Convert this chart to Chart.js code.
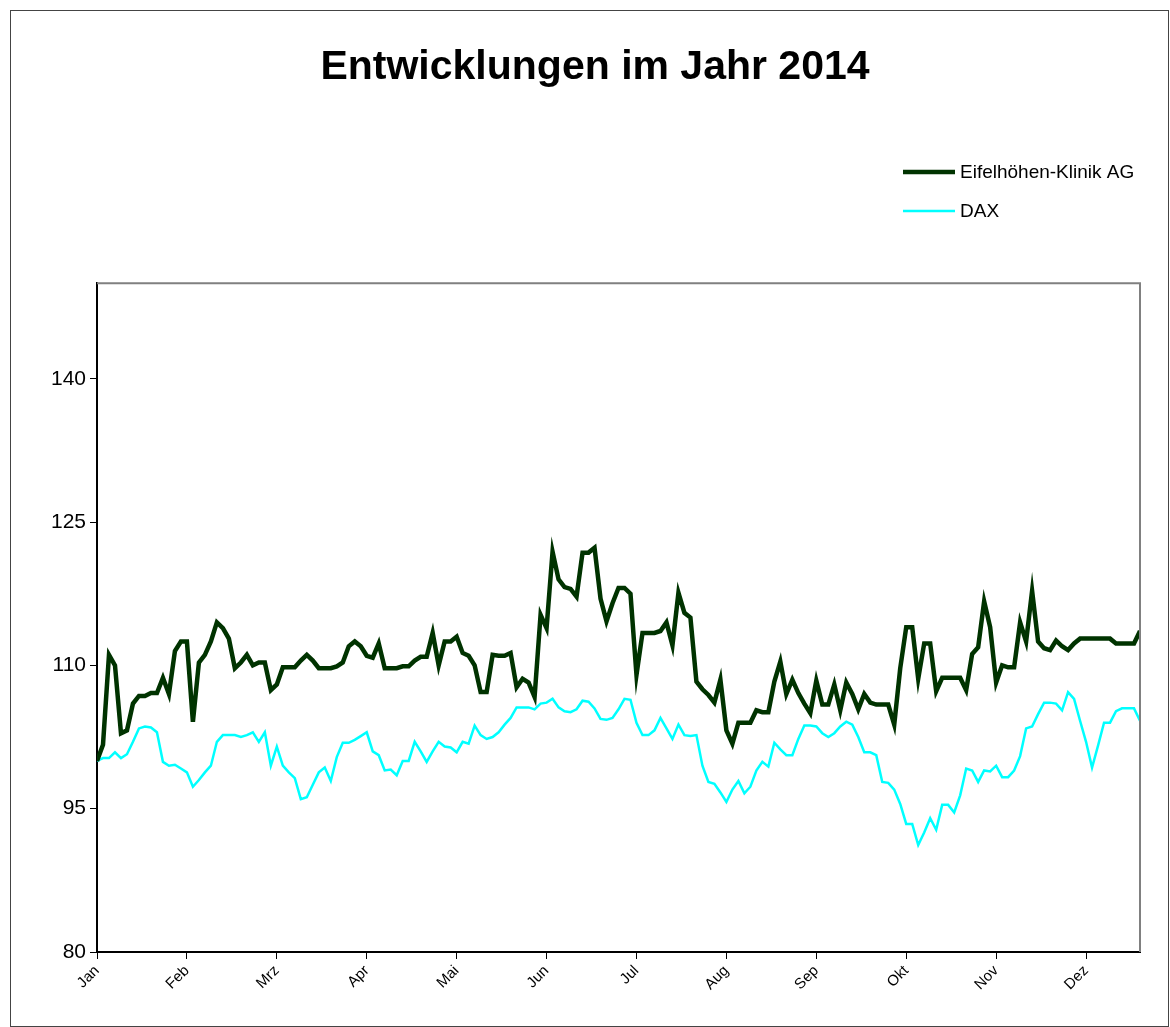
<!DOCTYPE html>
<html>
<head>
<meta charset="utf-8">
<script src="https://cdn.jsdelivr.net/npm/chart.js@4/dist/chart.umd.min.js"></script>
<style>
  body { margin: 0; background: #fff; }
  canvas { display: block; }
</style>
</head>
<body>
<canvas id="myChart" width="1170" height="1027"></canvas>
<script>
// Monatsbeschriftung der X-Achse (ein Strich alle 15 Punkte)
const months = ['Jan', 'Feb', 'Mrz', 'Apr', 'Mai', 'Jun', 'Jul', 'Aug', 'Sep', 'Okt', 'Nov', 'Dez'];
const pointsPerMonth = 15;

// Eifelhöhen-Klinik AG (indexiert, Start = 100)
const eifel = [
    100.0, 101.7, 111.1, 110.0, 102.9, 103.2, 106.0, 106.8, 106.8, 107.1, 107.1, 108.7, 107.0, 111.5, 112.5,
    112.5, 104.1, 110.3, 111.1, 112.5, 114.5, 113.9, 112.8, 109.7, 110.3, 111.1, 110.0, 110.3, 110.3, 107.4,
    108.0, 109.8, 109.8, 109.8, 110.5, 111.1, 110.5, 109.7, 109.7, 109.7, 109.9, 110.3, 112.0, 112.5, 112.0,
    111.0, 110.8, 112.3, 109.7, 109.7, 109.7, 109.9, 109.9, 110.5, 110.9, 110.9, 113.4, 110.0, 112.5, 112.5,
    113.0, 111.3, 111.0, 110.0, 107.2, 107.2, 111.1, 111.0, 111.0, 111.3, 107.7, 108.6, 108.2, 106.7, 115.3,
    113.9, 121.9, 119.0, 118.2, 118.0, 117.2, 121.8, 121.8, 122.3, 117.0, 114.6, 116.5, 118.1, 118.1, 117.5,
    109.0, 113.4, 113.4, 113.4, 113.6, 114.5, 112.1, 117.6, 115.5, 115.0, 108.3, 107.5, 106.9, 106.1, 108.5,
    103.2, 101.8, 104.0, 104.0, 104.0, 105.3, 105.1, 105.1, 108.3, 110.4, 107.0, 108.5, 107.1, 106.0, 105.0,
    108.4, 105.9, 105.9, 108.0, 105.3, 108.2, 107.0, 105.4, 107.0, 106.1, 105.9, 105.9, 105.9, 103.8, 109.7,
    114.0, 114.0, 108.6, 112.3, 112.3, 107.3, 108.7, 108.7, 108.7, 108.7, 107.4, 111.2, 111.9, 116.7, 114.0,
    108.2, 110.0, 109.8, 109.8, 114.5, 112.5, 117.8, 112.5, 111.8, 111.6, 112.6, 112.0, 111.6, 112.3, 112.8,
    112.8, 112.8, 112.8, 112.8, 112.8, 112.3, 112.3, 112.3, 112.3, 113.6
];

// DAX (indexiert, Start = 100)
const dax = [
    100.0, 100.3, 100.3, 100.9, 100.3, 100.7, 102.0, 103.4, 103.6, 103.5, 103.0, 99.9, 99.5, 99.6, 99.2,
    98.8, 97.3, 98.0, 98.8, 99.5, 102.0, 102.7, 102.7, 102.7, 102.5, 102.7, 103.0, 102.0, 103.0, 99.5,
    101.5, 99.5, 98.8, 98.2, 96.0, 96.2, 97.5, 98.8, 99.3, 97.9, 100.4, 101.9, 101.9, 102.2, 102.6,
    103.0, 101.0, 100.6, 99.0, 99.1, 98.5, 100.0, 100.0, 102.0, 101.0, 99.9, 101.0, 102.0, 101.5, 101.4,
    100.9, 102.0, 101.8, 103.7, 102.7, 102.3, 102.5, 103.0, 103.8, 104.5, 105.6, 105.6, 105.6, 105.4, 106.0,
    106.1, 106.5, 105.6, 105.2, 105.1, 105.4, 106.3, 106.2, 105.5, 104.4, 104.3, 104.5, 105.4, 106.5, 106.4,
    104.0, 102.7, 102.7, 103.2, 104.5, 103.4, 102.3, 103.8, 102.7, 102.6, 102.7, 99.5, 97.8, 97.6, 96.7,
    95.7, 97.0, 97.9, 96.6, 97.3, 99.0, 99.9, 99.4, 101.9, 101.2, 100.6, 100.6, 102.3, 103.7, 103.7,
    103.6, 102.9, 102.5, 102.9, 103.6, 104.1, 103.8, 102.5, 100.9, 100.9, 100.6, 97.8, 97.7, 97.0, 95.5,
    93.4, 93.4, 91.2, 92.5, 94.0, 92.8, 95.4, 95.4, 94.6, 96.4, 99.2, 99.0, 97.8, 99.0, 98.9,
    99.5, 98.3, 98.3, 99.0, 100.5, 103.4, 103.6, 104.9, 106.1, 106.1, 106.0, 105.3, 107.2, 106.5, 104.2,
    102.0, 99.3, 101.6, 104.0, 104.0, 105.2, 105.5, 105.5, 105.5, 104.2
];

// Y-Achse: Beschriftung 80..140, Achse geht bis 150
const yTicks = [80, 95, 110, 125, 140];
const yMin = 80;
const yMax = 150;

const toPoints = (arr) => arr.map((v, i) => ({ x: i, y: v }));

// Rahmen um Diagramm und Zeichenfläche
const framePlugin = {
    id: 'frame',
    beforeDraw(chart) {
        const ctx = chart.ctx;
        ctx.save();
        ctx.strokeStyle = '#444';
        ctx.lineWidth = 1;
        ctx.strokeRect(10.5, 10.5, chart.width - 12, chart.height - 11);
        ctx.restore();
    },
    afterDatasetsDraw(chart) {
        const { ctx, chartArea: a } = chart;
        ctx.save();
        ctx.strokeStyle = '#808080';
        ctx.lineWidth = 2;
        ctx.beginPath();
        ctx.moveTo(a.left, a.top);
        ctx.lineTo(a.right, a.top);
        ctx.lineTo(a.right, a.bottom);
        ctx.stroke();
        ctx.restore();
    }
};

// Legende oben rechts, untereinander
const legendPlugin = {
    id: 'sideLegend',
    afterDraw(chart) {
        const ctx = chart.ctx;
        ctx.save();
        ctx.font = '19px "Liberation Sans", Arial, sans-serif';
        ctx.textBaseline = 'middle';
        ctx.fillStyle = '#000';
        chart.data.datasets.forEach((ds, i) => {
            const y = 172 + i * 39;
            ctx.strokeStyle = ds.borderColor;
            ctx.lineWidth = ds.borderWidth;
            ctx.beginPath();
            ctx.moveTo(903, y);
            ctx.lineTo(955, y);
            ctx.stroke();
            ctx.fillText(ds.label, 960, y + 1);
        });
        ctx.restore();
    }
};

const ctx = document.getElementById('myChart').getContext('2d');
new Chart(ctx, {
    type: 'line',
    data: {
        datasets: [
            {
                label: 'Eifelhöhen-Klinik AG',
                data: toPoints(eifel),
                borderColor: '#003300',
                borderWidth: 4.5,
                pointRadius: 0,
                tension: 0
            },
            {
                label: 'DAX',
                data: toPoints(dax),
                borderColor: '#00FFFF',
                borderWidth: 2.5,
                pointRadius: 0,
                tension: 0
            }
        ]
    },
    options: {
        responsive: false,
        animation: false,
        layout: { padding: { left: 50, right: 30, top: 0, bottom: 0 } },
        plugins: {
            legend: { display: false },
            tooltip: { enabled: false },
            title: {
                display: true,
                text: 'Entwicklungen im Jahr 2014',
                color: '#000',
                font: { family: '"Liberation Sans", Arial, sans-serif', size: 41, weight: 'bold' },
                padding: { top: 43, bottom: 191 }
            }
        },
        scales: {
            x: {
                type: 'linear',
                min: 0,
                max: eifel.length - 1,
                afterFit: (scale) => { scale.height = 75; },
                border: { color: '#000', width: 2 },
                grid: { drawOnChartArea: false, color: '#000', tickLength: 7 },
                ticks: {
                    stepSize: pointsPerMonth,
                    includeBounds: false,
                    autoSkip: false,
                    maxRotation: 45,
                    minRotation: 45,
                    padding: 3,
                    color: '#000',
                    font: { family: '"Liberation Sans", Arial, sans-serif', size: 15 },
                    callback: (value) => months[value / pointsPerMonth]
                }
            },
            y: {
                min: yMin,
                max: yMax,
                afterFit: (scale) => { scale.width = 47; },
                afterBuildTicks: (scale) => { scale.ticks = yTicks.map(v => ({ value: v })); },
                border: { color: '#000', width: 2 },
                grid: { drawOnChartArea: false, color: '#000', tickLength: 7 },
                ticks: {
                    padding: 4,
                    color: '#000',
                    font: { family: '"Liberation Sans", Arial, sans-serif', size: 21 }
                }
            }
        }
    },
    plugins: [framePlugin, legendPlugin]
});
</script>
</body>
</html>
